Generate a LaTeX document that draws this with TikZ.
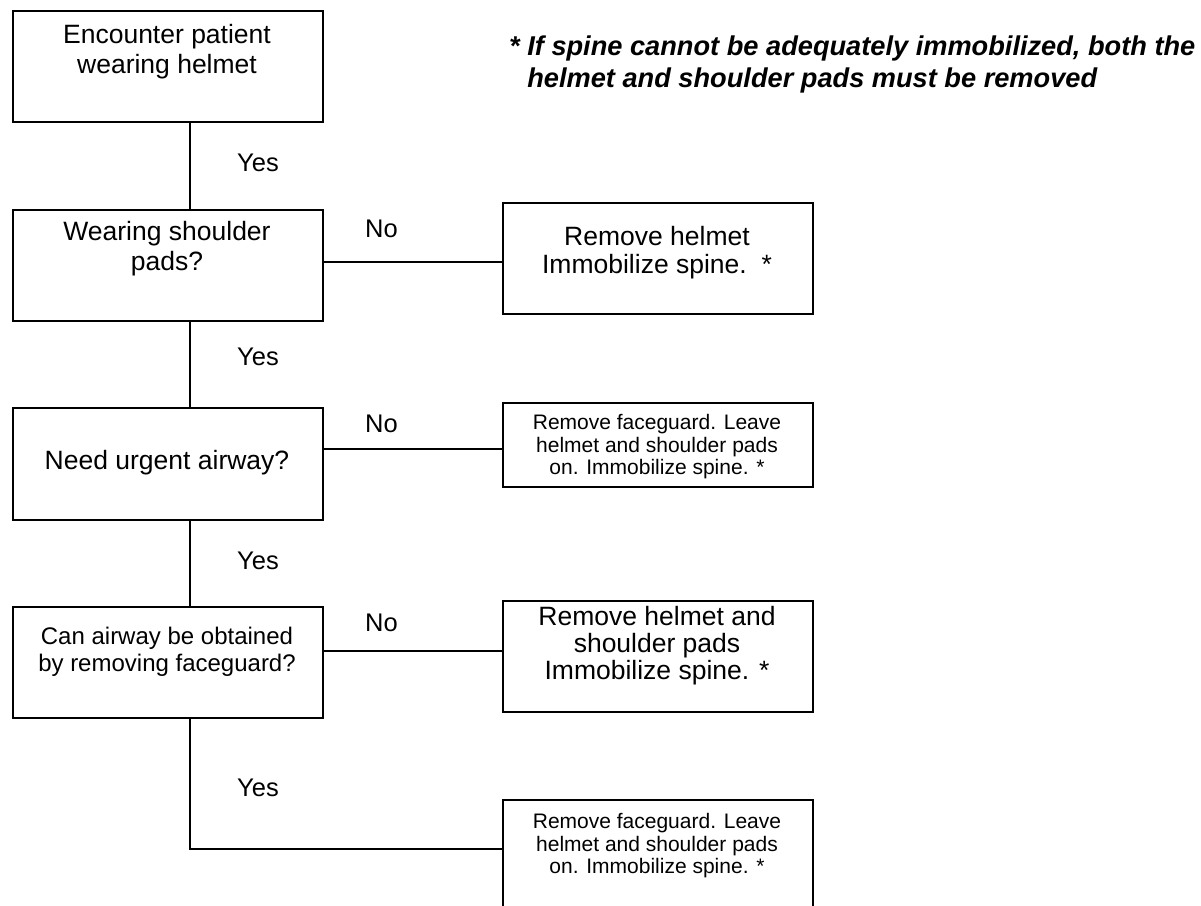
\documentclass[tikz,border=0pt]{standalone}
\usepackage{fontspec}
\setmainfont{Liberation Sans}
\begin{document}
\begin{tikzpicture}[x=1pt,y=-1pt,
  box/.style={draw, line width=1.6pt, inner sep=0pt, anchor=north west, minimum width=310pt},
  conn/.style={line width=1.3pt},
  big/.style={font=\fontsize{26.5}{30}\selectfont, align=center, inner sep=0pt},
  small/.style={font=\fontsize{21}{22.5}\selectfont, align=center, inner sep=0pt},
  lbl/.style={font=\fontsize{25.5}{28}\selectfont, inner sep=0pt},
  note/.style={font=\fontsize{27.2}{32}\selectfont\bfseries\itshape, align=left, inner sep=0pt, anchor=north west}]
\useasboundingbox (0,0) rectangle (1201,905);
\clip (0,0) rectangle (1201,905);
% boxes
\node[box, minimum height=111pt] (b1) at (12,10) {};
\node[box, minimum height=111pt] (b2) at (12,209) {};
\node[box, minimum height=112pt] (b3) at (12,407) {};
\node[box, minimum height=111pt] (b4) at (12,606) {};
\node[box, minimum height=111pt] (r1) at (502,202) {};
\node[box, minimum height=84pt] (r2) at (502,402) {};
\node[box, minimum height=111pt] (r3) at (502,600) {};
\node[box, minimum height=130pt] (r4) at (502,799) {};
% texts
\node[big] (t1) at (167,52) {Encounter patient\\wearing helmet};
\node[big] (t2) at (167,249) {Wearing shoulder\\pads?};
\node[big] (t3) at (167,463) {Need urgent airway?};
\node[font=\fontsize{24}{27}\selectfont, align=center, inner sep=0pt] (t4) at (167,652) {Can airway be obtained\\by removing faceguard?};
\node[big, font=\fontsize{26.5}{28}\selectfont] (u1) at (657,253) {Remove helmet\\Immobilize spine.\ \ *};
\node[small] (u2) at (657,447) {Remove faceguard. Leave\\helmet and shoulder pads\\on. Immobilize spine. *};
\node[big, font=\fontsize{26.5}{27}\selectfont] (u3) at (657,646) {Remove helmet and\\shoulder pads\\Immobilize spine. *};
\node[small] (u4) at (657,846) {Remove faceguard. Leave\\helmet and shoulder pads\\on. Immobilize spine. *};
% connectors
\coordinate (cx) at (190,0);
\coordinate (y1) at (0,262);
\coordinate (y2) at (0,449);
\coordinate (y3) at (0,651);
\coordinate (y4) at (0,849);
\draw[conn] (b1.south -| cx) -- (b2.north -| cx);
\draw[conn] (b2.south -| cx) -- (b3.north -| cx);
\draw[conn] (b3.south -| cx) -- (b4.north -| cx);
\draw[conn] (y1 -| b2.east) -- (y1 -| r1.west);
\draw[conn] (y2 -| b3.east) -- (y2 -| r2.west);
\draw[conn] (y3 -| b4.east) -- (y3 -| r3.west);
\draw[conn] (b4.south -| cx) |- (y4 -| r4.west);
% labels
\node[lbl] (yes1) at (258,163) {Yes};
\node[lbl] (yes2) at (258,357) {Yes};
\node[lbl] (yes3) at (258,561) {Yes};
\node[lbl] (yes4) at (258,788) {Yes};
\node[lbl] (no1) at (381.5,229) {No};
\node[lbl] (no2) at (381.5,424) {No};
\node[lbl] (no3) at (381.5,623) {No};
% note
\node[note] (fn) at (509,36) {* If spine cannot be adequately immobilized, both the\\\phantom{*} helmet and shoulder pads must be removed};
\end{tikzpicture}
\end{document}
